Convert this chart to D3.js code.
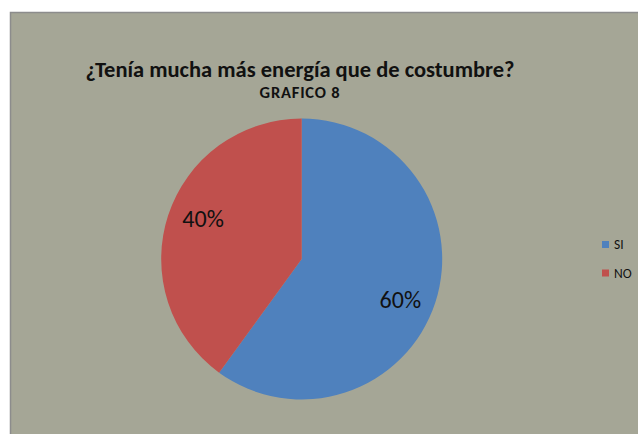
<!DOCTYPE html>
<html>
<head>
<meta charset="utf-8">
<script src="https://cdn.jsdelivr.net/npm/d3@7"></script>
<style>
  html, body { margin: 0; padding: 0; background: #ffffff; }
  svg { display: block; }
</style>
</head>
<body>
<svg id="chart" width="638" height="434"></svg>
<script>
// Survey answers: "¿Tenía mucha más energía que de costumbre?"
const categories = ["SI", "NO"];
const values = [60, 40];
const colors = ["#4f81bd", "#c0504d"];
const title = "¿Tenía mucha más energía que de costumbre?";
const subtitle = "GRAFICO 8";

const svg = d3.select("#chart");
const font = "Calibri, Carlito, 'Open Sans', 'Liberation Sans', sans-serif";

// Chart area panel
svg.append("rect")
  .attr("x", 10.5).attr("y", 12.5)
  .attr("width", 640).attr("height", 440)
  .attr("fill", "#a5a696")
  .attr("stroke", "#8c8c8c")
  .attr("stroke-width", 1.5);

// Titles
svg.append("text")
  .attr("x", 300).attr("y", 76.5)
  .attr("text-anchor", "middle")
  .attr("font-family", font)
  .attr("font-weight", "bold")
  .attr("font-size", 22.5)
  .attr("fill", "#111")
  .text(title);

svg.append("text")
  .attr("x", 300).attr("y", 97.5)
  .attr("text-anchor", "middle")
  .attr("font-family", font)
  .attr("font-weight", "bold")
  .attr("font-size", 16.5)
  .attr("letter-spacing", 0.8)
  .attr("fill", "#111")
  .text(subtitle);

// Pie
const cx = 301.7, cy = 259, r = 140.5;
const total = d3.sum(values);
const pie = d3.pie().sort(null).value(d => d)(values);
const arc = d3.arc().innerRadius(0).outerRadius(r);
const color = d3.scaleOrdinal().domain(categories).range(colors);

const g = svg.append("g").attr("transform", `translate(${cx},${cy})`);
g.selectAll("path")
  .data(pie)
  .join("path")
  .attr("d", arc)
  .attr("fill", (d, i) => color(categories[i]));

// Percentage labels placed inside the slices
const labelR = r * 0.76;
const labelShift = 4.5 * Math.PI / 180;
g.selectAll("text.pct")
  .data(pie)
  .join("text")
  .attr("class", "pct")
  .attr("transform", d => {
    const a = (d.startAngle + d.endAngle) / 2 + labelShift;
    return `translate(${labelR * Math.sin(a)},${-labelR * Math.cos(a)})`;
  })
  .attr("text-anchor", "middle")
  .attr("dy", "0.35em")
  .attr("font-family", font)
  .attr("font-size", 24)
  .attr("fill", "#111")
  .text(d => Math.round(d.value / total * 100) + "%");

// Legend
const legend = svg.append("g").attr("transform", "translate(602,241)");
const items = legend.selectAll("g")
  .data(categories)
  .join("g")
  .attr("transform", (d, i) => `translate(0,${i * 28.5})`);
items.append("rect")
  .attr("width", 7).attr("height", 7)
  .attr("fill", d => color(d));
items.append("text")
  .attr("x", 12).attr("y", 8)
  .attr("font-family", font)
  .attr("font-size", 13.5)
  .attr("fill", "#111")
  .text(d => d);
</script>
</body>
</html>
